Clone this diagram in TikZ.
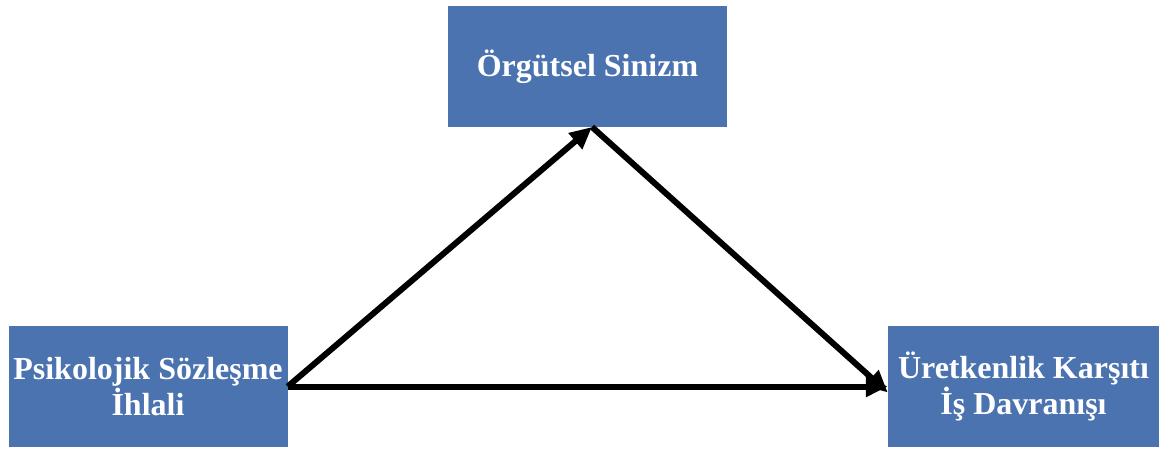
\documentclass[tikz,border=0pt]{standalone}
\usepackage{fontspec}
\setmainfont{Liberation Serif}
\usetikzlibrary{arrows.meta}
\definecolor{boxblue}{HTML}{4A73B0}
\begin{document}
\begin{tikzpicture}[x=1pt,y=-1pt,
  box/.style={fill=boxblue, draw=none, text=white, font=\bfseries\fontsize{32}{36}\selectfont, align=center, inner sep=0pt},
  arr/.style={line width=6pt, -{Triangle[length=22pt,width=20pt]}}]
\useasboundingbox (0,0) rectangle (1159,449);
\fill[white] (0,0) rectangle (1159,449);
\node[box, minimum width=279pt, minimum height=121pt] (top) at (587.5,66.5) {Örgütsel Sinizm};
\node[box, minimum width=279pt, minimum height=121pt] (left) at (148,386.5) {Psikolojik Sözleşme\\İhlali};
\node[box, minimum width=271pt, minimum height=121pt] (right) at (1023.5,386.5) {Üretkenlik Karşıtı\\İş Davranışı};
\coordinate (topb) at (592,127);
\coordinate (rin) at ([yshift=-6pt]right.west);
\draw[arr] (left.east) -- (topb);
\draw[arr] (topb) -- (rin);
\draw[arr] (left.east) -- (right.west);
\end{tikzpicture}
\end{document}
